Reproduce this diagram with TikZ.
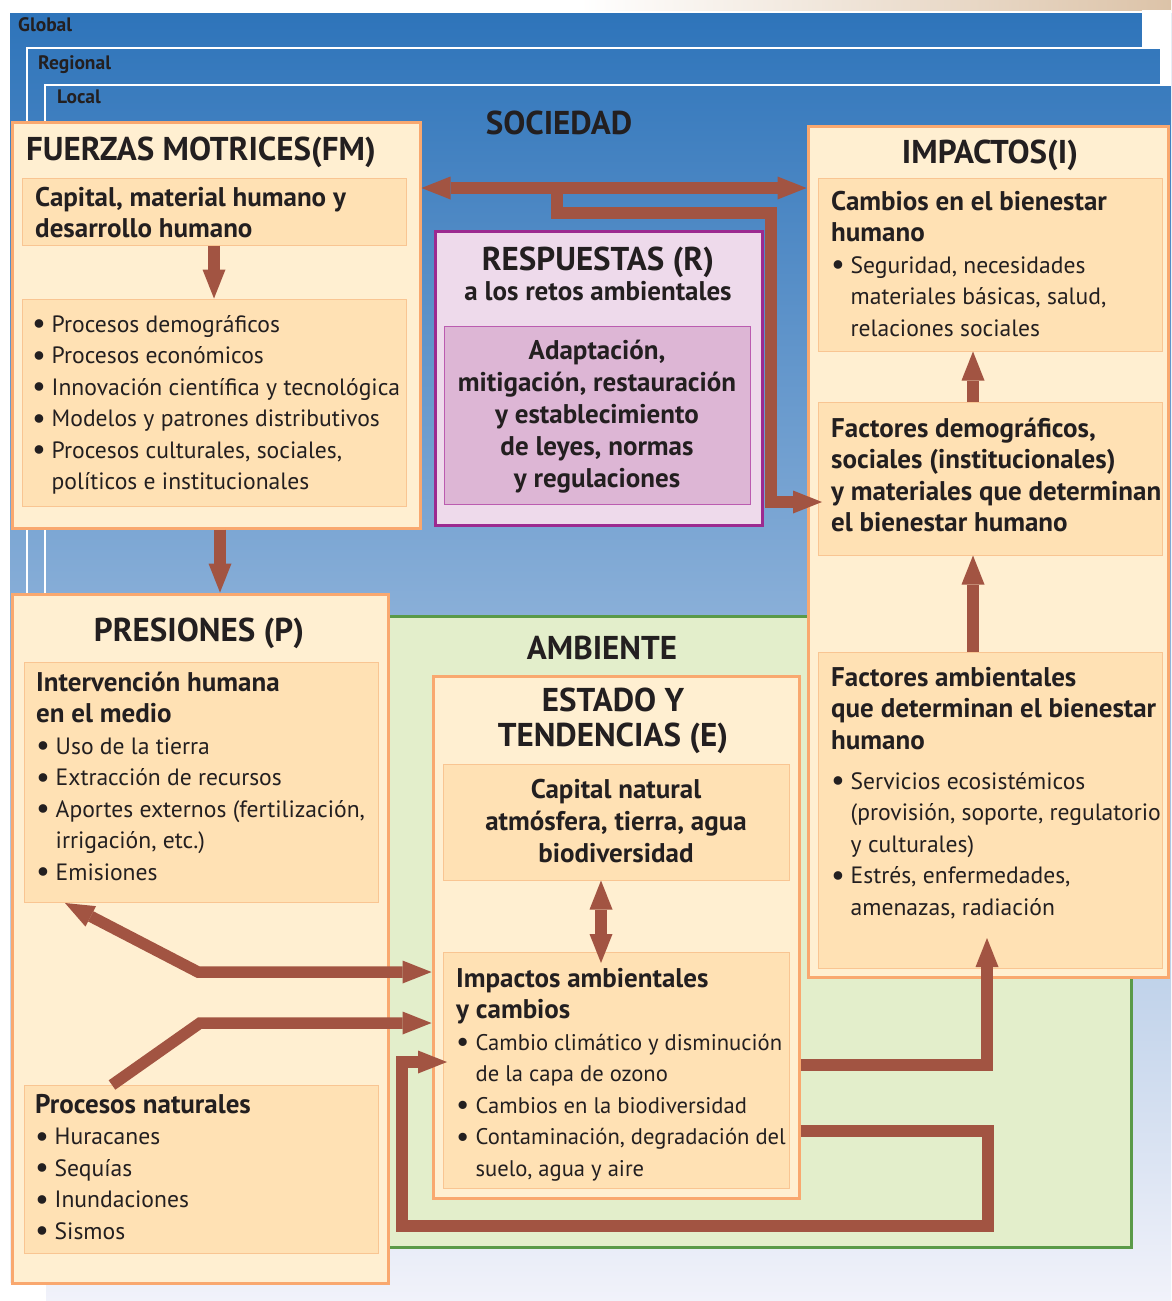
\documentclass[tikz,border=0pt]{standalone}
\usepackage{fontspec}
\setmainfont{PT Sans}
\usetikzlibrary{arrows.meta,fit,calc}
\definecolor{arrc}{HTML}{A25442}
\definecolor{cream}{HTML}{FFEFD1}
\definecolor{peach}{HTML}{FFE1B4}
\definecolor{obord}{HTML}{F9A86F}
\definecolor{ibord}{HTML}{F9C592}
\definecolor{pbord}{HTML}{9C2A90}
\definecolor{pfill}{HTML}{EEDAEB}
\definecolor{pin}{HTML}{DDB6D5}
\definecolor{pinb}{HTML}{BB5CB0}
\definecolor{gfill}{HTML}{E3EECB}
\definecolor{gbord}{HTML}{5A9A48}
\definecolor{blueT}{HTML}{2E74BA}
\definecolor{blueM}{HTML}{8EA8D5}
\definecolor{blueB}{HTML}{F1F2FA}
\definecolor{tanc}{HTML}{DCC3A8}
\definecolor{txt}{HTML}{231F20}
\newcommand\ftitle{\fontsize{33}{35}\selectfont\bfseries}
\newcommand\fsub{\fontsize{27}{31.5}\selectfont\bfseries}
\newcommand\fbody{\fontsize{23.6}{31.5}\selectfont}
\newcommand\fbodys{\fontsize{22.6}{31.5}\selectfont}
\newcommand\bu{\makebox[19.5pt][l]{\raisebox{-1.5pt}{\scalebox{1.3}{\textbullet}}}}
\newcommand\ind{\hspace*{19.5pt}}
\tikzset{
  obox/.style={draw=obord, fill=cream, line width=3pt, inner sep=0pt},
  ibox/.style={draw=ibord, fill=peach, line width=1pt, inner sep=0pt},
  rbox/.style={draw=pbord, fill=pfill, line width=3pt, inner sep=0pt},
  rin/.style={draw=pinb, fill=pin, line width=1pt, inner sep=0pt},
  ambox/.style={draw=gbord, fill=gfill, line width=3pt, inner sep=0pt},
  ttl/.style={font=\ftitle, text=txt, inner sep=0pt, align=center},
  txtb/.style={font=\fsub, text=txt, inner sep=0pt, align=left, anchor=base west},
  txtr/.style={font=\fbody, text=txt, inner sep=0pt, align=left, anchor=base west},
  lbl/.style={font=\fontsize{19.5}{21}\selectfont\bfseries, text=txt, inner sep=0pt, anchor=base west},
  conn/.style={draw=arrc, line width=11.5pt, line join=miter},
  hd/.style={-{Triangle[width=23pt,length=29pt,line width=0pt]}},
  dhd/.style={{Triangle[width=23pt,length=29pt,line width=0pt]}-{Triangle[width=23pt,length=29pt,line width=0pt]}}
}
\begin{document}
\begin{tikzpicture}[x=1pt,y=-1pt]
\fill[white] (0,0) rectangle (1171,1301);
\useasboundingbox (0,0) rectangle (1171,1301);
% background bands
\shade[left color=white, right color=tanc] (580,0) rectangle (1171,10);
\shade[top color=blueT, middle color=blueM, bottom color=blueB] (10,13) rectangle (1171,1301);
\fill[white] (1142,10) rectangle (1171,48);
\fill[white] (1160,48) rectangle (1171,84);
\fill[white] (0,1283) rectangle (45,1301);
\draw[white, line width=2.5pt] (27,1283) -- (27,48) -- (1160,48);
\draw[white, line width=2.5pt] (45,1301) -- (45,85) -- (1171,85);
\node[lbl] (lglob) at (18,31) {Global};
\node[lbl] (lreg) at (38,69) {Regional};
\node[lbl] (lloc) at (57,103) {Local};
% ambiente region
\node[ambox, fit={(388,616)(1131,1247)}] (amb) {};
% boxes
\node[obox, fit={(12,122)(420,528)}] (fm) {};
\node[ibox, fit={(22,178)(406,245)}] (fm1) {};
\node[ibox, fit={(22,299)(406,506)}] (fm2) {};
\node[obox, fit={(12,594)(388,1283)}] (pp) {};
\node[ibox, fit={(24,662)(378,902)}] (p1) {};
\node[ibox, fit={(24,1085)(378,1253)}] (p2) {};
\node[obox, fit={(808,126)(1168,977)}] (im) {};
\node[ibox, fit={(818,178)(1162,351)}] (i1) {};
\node[ibox, fit={(818,402)(1162,555)}] (i2) {};
\node[ibox, fit={(818,652)(1162,968)}] (i3) {};
\node[obox, fit={(433,676)(799,1198)}] (es) {};
\node[ibox, fit={(443,764)(789,880)}] (e1) {};
\node[ibox, fit={(443,952)(789,1188)}] (e2) {};
\node[rbox, fit={(435,231)(762,525)}] (re) {};
\node[rin, fit={(444,326)(750,504)}] (r1) {};
% titles (base anchor of a multi-line node = last line's baseline)
\node[ttl, anchor=base] (soc) at (559,134) {SOCIEDAD};
\node[ttl, anchor=base] (ambt) at (602,659) {AMBIENTE};
\node[ttl, anchor=base west] (tfm) at (26,160) {FUERZAS MOTRICES(FM)};
\node[txtb] (tfm1) at (35,237.5) {Capital, material humano y\\desarrollo humano};
\node[txtr] (tfm2) at (32,489.5) {\bu Procesos demográficos\\\bu Procesos económicos\\\bu Innovación científica y tecnológica\\\bu Modelos y patrones distributivos\\\bu Procesos culturales, sociales,\\\ind políticos e institucionales};
\node[ttl, anchor=base] (tp) at (199,641) {PRESIONES (P)};
\node[txtr] (tp1) at (36,880) {{\fsub Intervención humana}\\{\fsub en el medio}\\\bu Uso de la tierra\\\bu Extracción de recursos\\\bu Aportes externos (fertilización,\\\ind irrigación, etc.)\\\bu Emisiones};
\node[txtr] (tp2) at (35,1239) {{\fsub Procesos naturales}\\\bu Huracanes\\\bu Sequías\\\bu Inundaciones\\\bu Sismos};
\node[ttl, anchor=base] (te) at (613,746) {ESTADO Y\\TENDENCIAS (E)};
\node[txtb, align=center, anchor=base, font=\fontsize{27}{32}\selectfont\bfseries] (te1) at (616,862) {Capital natural\\atmósfera, tierra, agua\\biodiversidad};
\node[txtr, font=\fbodys] (te2) at (456,1176) {{\fsub Impactos ambientales}\\{\fsub y cambios}\\\bu Cambio climático y disminución\\\ind de la capa de ozono\\\bu Cambios en la biodiversidad\\\bu Contaminación, degradación del\\\ind suelo, agua y aire};
\node[ttl, anchor=base] (ti) at (990,163) {IMPACTOS(I)};
\node[txtr] (ti1) at (831,336) {{\fsub Cambios en el bienestar}\\{\fsub humano}\\\bu Seguridad, necesidades\\\ind materiales básicas, salud,\\\ind relaciones sociales};
\node[txtb] (ti2) at (831,531.5) {Factores demográficos,\\sociales (institucionales)\\y materiales que determinan\\el bienestar humano};
\node[txtb] (ti3) at (831,749) {Factores ambientales\\que determinan el bienestar\\humano};
\node[txtr] (ti4) at (831,915) {\bu Servicios ecosistémicos\\\ind (provisión, soporte, regulatorio\\\ind y culturales)\\\bu Estrés, enfermedades,\\\ind amenazas, radiación};
\node[ttl, anchor=base] (tr) at (598,270) {RESPUESTAS (R)};
\node[txtb, anchor=base] (tr2) at (598,300) {a los retos ambientales};
\node[txtb, align=center, anchor=base, font=\fontsize{27}{32}\selectfont\bfseries] (tr3) at (597,487) {Adaptación,\\mitigación, restauración\\y establecimiento\\de leyes, normas\\y regulaciones};
% coordinates
\coordinate (x220) at (220,0);
\coordinate (y188) at (0,188);
\coordinate (b1) at (557,188);
\coordinate (b3) at (771,213);
\coordinate (b5) at (822,502);
\coordinate (x973) at (973,0);
\coordinate (x601) at (601,0);
\coordinate (e7) at (601,963);
\coordinate (k0) at (65,903);
\coordinate (k1) at (198,972);
\coordinate (k2) at (112,1085);
\coordinate (k3) at (200,1023);
\coordinate (l1) at (988,1131);
\coordinate (l2) at (402,1226);
\coordinate (l3) at (447,1062);
\coordinate (m1) at (987,1065);
\coordinate (m2) at (987,938);
% connectors
\draw[conn,hd] (fm1.south) -- (fm2.north);
\draw[conn,hd] (fm.south -| x220) -- (pp.north -| x220);
\draw[conn,dhd] (fm.east |- y188) -- (im.west |- y188);
\draw[conn,hd] (b1) |- (b3) |- (b5);
\draw[conn,hd] (i3.north -| x973) -- (i2.south -| x973);
\draw[conn,hd] (i2.north -| x973) -- (i1.south -| x973);
\draw[conn,dhd] (e1.south -| x601) -- (e7);
\draw[conn,dhd] (k0) -- (k1) -- (es.west |- k1);
\draw[conn,hd] (k2) -- (k3) -- (es.west |- k3);
\draw[conn,hd] (es.east |- l1) -- (l1) |- (l2) |- (l3);
\draw[conn,hd] (es.east |- m1) -- (m1) -- (m2);
\end{tikzpicture}
\end{document}
